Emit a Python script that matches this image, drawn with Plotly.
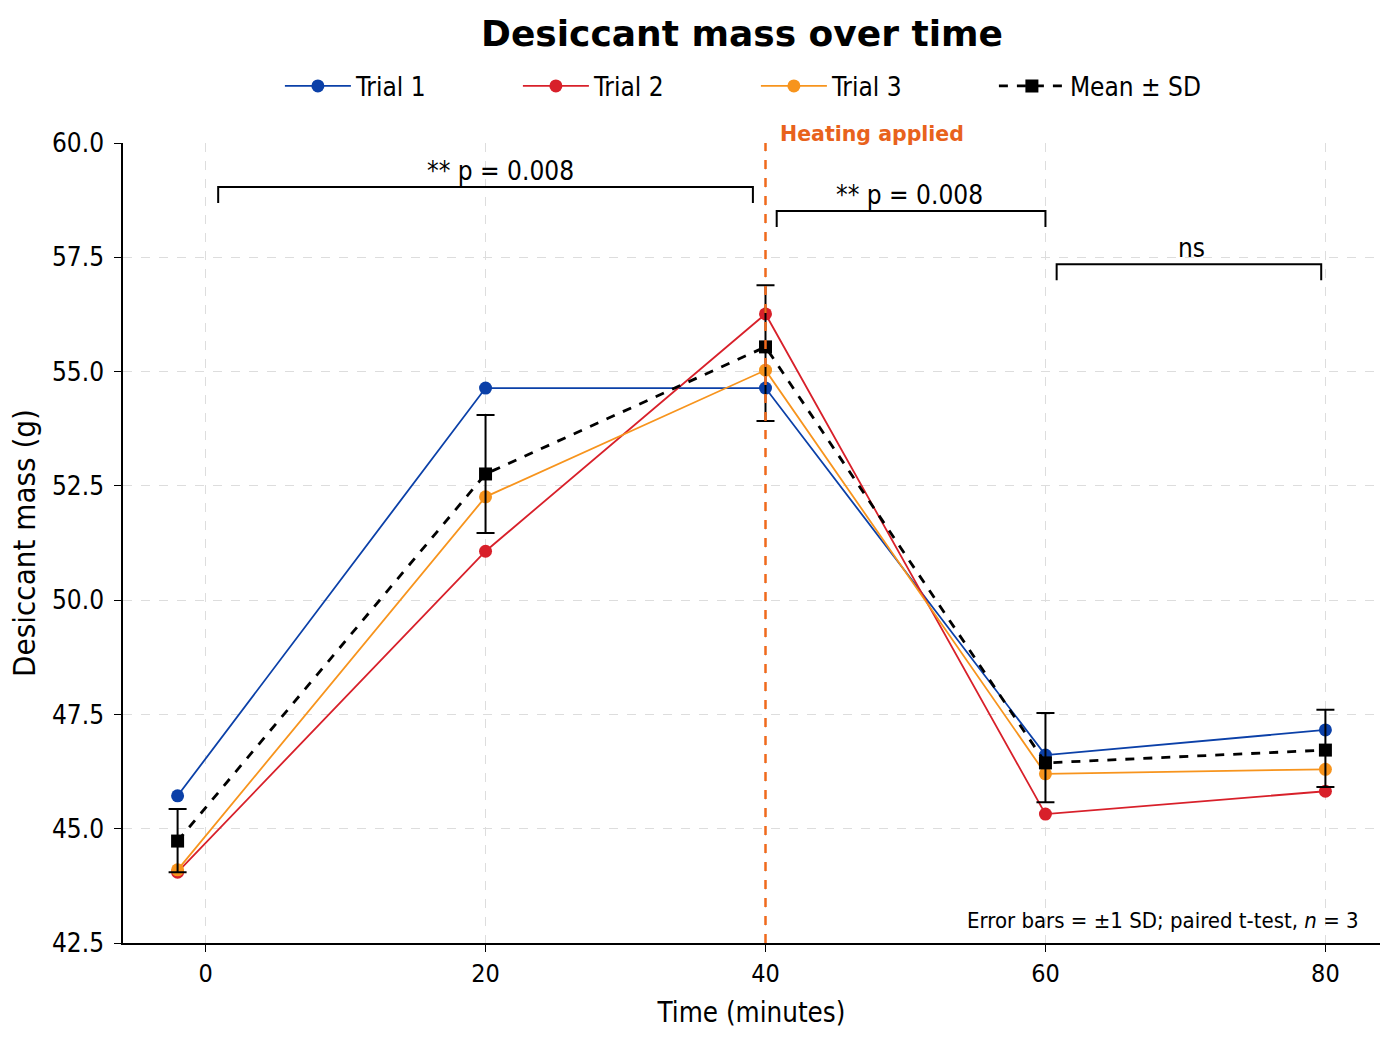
import plotly.graph_objects as go

time = [-2, 20, 40, 60, 80]
trial1 = [45.72, 54.64, 54.64, 46.61, 47.16]
trial2 = [44.05, 51.07, 56.26, 45.32, 45.82]
trial3 = [44.10, 52.26, 55.03, 46.20, 46.30]
mean = [44.73, 52.76, 55.54, 46.44, 46.72]
sd_upper = [0.70, 1.29, 1.35, 1.09, 0.88]
sd_lower = [0.68, 1.29, 1.62, 0.86, 0.81]

brackets = [
    # x0, x1, y, label x, label
    (0.9, 39.1, 59.04, 21.1, "** p = 0.008"),
    (40.8, 60.0, 58.51, 50.3, "** p = 0.008"),
    (60.8, 79.7, 57.35, 70.4, "ns"),
]
bracket_drop = 0.35
heating_x = 40

FONT = "DejaVu Sans"
COND = "DejaVu Sans Condensed, DejaVu Sans"
fig = go.Figure()

series = [
    ("Trial 1", trial1, "#0b40a8"),
    ("Trial 2", trial2, "#d8202a"),
    ("Trial 3", trial3, "#f7941d"),
]
for name, vals, col in series:
    fig.add_trace(go.Scatter(
        x=time, y=vals, name=name, mode="lines+markers",
        line=dict(color=col, width=1.8),
        marker=dict(color=col, size=13, symbol="circle"),
    ))

fig.add_trace(go.Scatter(
    x=time, y=mean, name="Mean ± SD", mode="lines+markers",
    line=dict(color="black", width=2.8, dash="dash"),
    marker=dict(color="black", size=13, symbol="square"),
    error_y=dict(type="data", symmetric=False, array=sd_upper, arrayminus=sd_lower,
                 visible=True, color="black", thickness=2, width=9),
))

shapes = []
annotations = []
for x0, x1, y, lx, label in brackets:
    shapes.append(dict(type="path", xref="x", yref="y",
                       path=f"M {x0},{y - bracket_drop} L {x0},{y} L {x1},{y} L {x1},{y - bracket_drop}",
                       line=dict(color="black", width=2)))
    annotations.append(dict(x=lx, y=y, xref="x", yref="y", text=label,
                            showarrow=False, yanchor="bottom", yshift=-1,
                            font=dict(family=COND, size=26, color="black")))

shapes.append(dict(type="line", xref="x", yref="paper", x0=heating_x, x1=heating_x, y0=0, y1=1.0,
                   line=dict(color="#f06a1c", width=2.5, dash="dash")))
annotations.append(dict(x=heating_x, y=1.0, xref="x", yref="paper", text="<b>Heating applied</b>",
                        showarrow=False, xanchor="left", yanchor="bottom", xshift=12, yshift=-5,
                        font=dict(family=FONT, size=20.5, color="#e8621c")))
annotations.append(dict(x=0.985, y=0.028, xref="paper", yref="paper",
                        text="Error bars = ±1 SD; paired t-test, <i>n</i> = 3",
                        showarrow=False, xanchor="right", yanchor="middle",
                        font=dict(family=COND, size=22, color="black")))

fig.update_layout(
    width=1400, height=1050,
    paper_bgcolor="white", plot_bgcolor="white",
    margin=dict(l=123, r=20, t=143, b=107),
    title=dict(text="<b>Desiccant mass over time</b>", x=0.53, xanchor="center",
               y=1 - 33 / 1050, yanchor="middle",
               font=dict(family=FONT, size=36, color="black")),
    font=dict(family=COND, size=22, color="black"),
    legend=dict(orientation="h", x=0.5035, xanchor="center", y=1 - 86 / 1050, yref="container",
                yanchor="middle", font=dict(family=COND, size=26),
                entrywidth=157, entrywidthmode="pixels", itemwidth=66),
    shapes=shapes, annotations=annotations,
    xaxis=dict(range=[-5.9, 83.9], tickmode="linear", tick0=0, dtick=20,
               showline=True, linecolor="black", linewidth=1.5, ticks="outside", ticklen=7,
               tickcolor="black", showgrid=True, gridcolor="#dddddd", griddash="dash",
               zeroline=False, tickfont=dict(family=COND, size=25),
               title=dict(text="Time (minutes)", font=dict(family=COND, size=27.5), standoff=16)),
    yaxis=dict(range=[42.5, 60.0], tickmode="linear", tick0=42.5, dtick=2.5, tickformat=".1f",
               showline=True, linecolor="black", linewidth=1.5, ticks="outside", ticklen=7,
               tickcolor="black", showgrid=True, gridcolor="#dddddd", griddash="dash",
               zeroline=False, tickfont=dict(family=COND, size=26), ticklabelstandoff=5,
               title=dict(text="Desiccant mass (g)", font=dict(family=COND, size=31), standoff=7)),
)

fig.write_html("out.html")
